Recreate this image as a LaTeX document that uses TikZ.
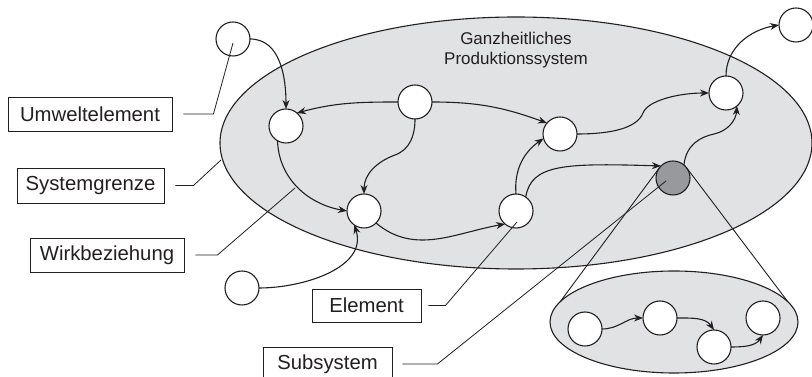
\documentclass[tikz,border=0pt]{standalone}
\usepackage{fontspec}
\setmainfont{Liberation Sans}
\usetikzlibrary{arrows.meta,shapes.geometric}
\definecolor{ink}{HTML}{231F20}
\definecolor{sysfill}{HTML}{E1E2E4}
\definecolor{darkfill}{HTML}{98999C}

\begin{document}
\begin{tikzpicture}[x=1pt,y=1pt,
  sysarea/.style={ellipse,draw=ink,fill=sysfill,line width=1.1pt,inner sep=0pt,outer sep=0pt},
  elem/.style={circle,draw=ink,fill=white,line width=1.1pt,minimum size=34pt,inner sep=0pt,outer sep=0pt},
  subelem/.style={elem,fill=darkfill},
  flow/.style={draw=ink,line width=1.1pt,-{Stealth[length=9pt,width=7pt]}},
  leader/.style={draw=ink,line width=0.8pt},
  cone/.style={draw=ink,line width=0.9pt},
  tag/.style={draw=ink,fill=white,line width=0.9pt,inner sep=0pt,minimum height=34pt,
    font=\fontsize{20.3}{24}\selectfont,text=ink},
  title/.style={align=center,font=\fontsize{17}{20}\selectfont,text=ink}
]
\useasboundingbox (0,0) rectangle (812,377);
\clip (0,0) rectangle (812,377);

% system boundary and subsystem
\node[sysarea,minimum width=592pt,minimum height=252pt] (sys) at (516,234) {};
\node[title] (head) at (516,326.5) {Ganzheitliches\\Produktionssystem};
\node[sysarea,minimum width=248pt,minimum height=102pt] (sub) at (674,55) {};

% elements
\node[elem] (u1) at (233,338) {};
\node[elem] (a)  at (286,251) {};
\node[elem] (b)  at (415,275) {};
\node[elem] (c)  at (364,166) {};
\node[elem] (d)  at (516,166) {};
\node[elem] (e)  at (560,243) {};
\node[elem] (f)  at (726,284) {};
\node[subelem] (g) at (673,199) {};
\node[elem] (h)  at (796,352) {};
\node[elem] (u2) at (242,89) {};
\node[elem] (s1) at (585,48) {};
\node[elem] (s2) at (660,59) {};
\node[elem] (s3) at (714,30) {};
\node[elem] (s4) at (763,59) {};

% zoom cone from the subsystem element
\draw[cone] (g.143) -- (sub.170);
\draw[cone] (g.37) -- (sub.10);

% relations
\coordinate (bc) at (395,222);
\coordinate (ef) at (643,264);
\coordinate (gf) at (714,243);
\draw[flow] (u1.east) to[out=0,in=90] (a.north);
\draw[flow] (b.west) to[out=180,in=15] (a.50);
\draw[flow] (b.east) to[out=0,in=160] (e.140);
\draw[flow] (b.south) to[out=-90,in=20] (bc) to[out=200,in=90] (c.north);
\draw[flow] (a.240) to[out=-88,in=170] (c.west);
\draw[flow] (u2.east) to[out=0,in=-72] (c.235);
\draw[flow] (c.-45) to[out=-40,in=190] (d.230);
\draw[flow] (d.north) to[out=95,in=215] (e.195);
\draw[flow] (d.55) .. controls (531,213) and (565,214) .. (g.135);
\draw[flow] (e.east) .. controls (612,243) and (637,249) .. (ef)
            .. controls (648,277) and (680,284) .. (f.west);
\draw[flow] (g.50) .. controls (686,232) and (700,240) .. (gf)
            .. controls (728,246) and (736,257) .. (f.-50);
\draw[flow] (f.north) to[out=90,in=190] (h.west);
\draw[flow] (s1.east) to[out=0,in=180] (s2.west);
\draw[flow] (s2.east) to[out=0,in=125] (s3.north);
\draw[flow] (s3.east) to[out=0,in=-125] (s4.south);

% labels
\node[tag,minimum width=164pt] (umw)  at (90,263)    {Umweltelement};
\node[tag,minimum width=147pt,minimum height=35pt] (grenz) at (90.5,191.5) {Systemgrenze};
\node[tag,minimum width=154pt] (wirk) at (107,122)   {Wirkbeziehung};
\node[tag,minimum width=109pt,minimum height=33pt] (elt) at (366.5,71.5) {Element};
\node[tag,minimum width=129pt] (subt) at (327.5,13)  {Subsystem};

% leader lines
\coordinate (umwend)   at (233,334);
\coordinate (grenzend) at (221,217);
\coordinate (wirkend)  at (295,189);
\coordinate (eltend)   at (517,155);
\coordinate (subend)   at (666,196);
\draw[leader] ([xshift=11pt]umw.east) -- ++(30,0) -- (umwend);
\draw[leader] ([xshift=11pt]grenz.east) -- ++(18,0) -- (grenzend);
\draw[leader] ([xshift=11pt]wirk.east) -- ++(22,0) -- (wirkend);
\draw[leader] ([xshift=7pt]elt.east) -- ++(17,0) -- (eltend);
\draw[leader] ([xshift=10pt]subt.east) -- ++(35,0) -- (subend);
\end{tikzpicture}
\end{document}
